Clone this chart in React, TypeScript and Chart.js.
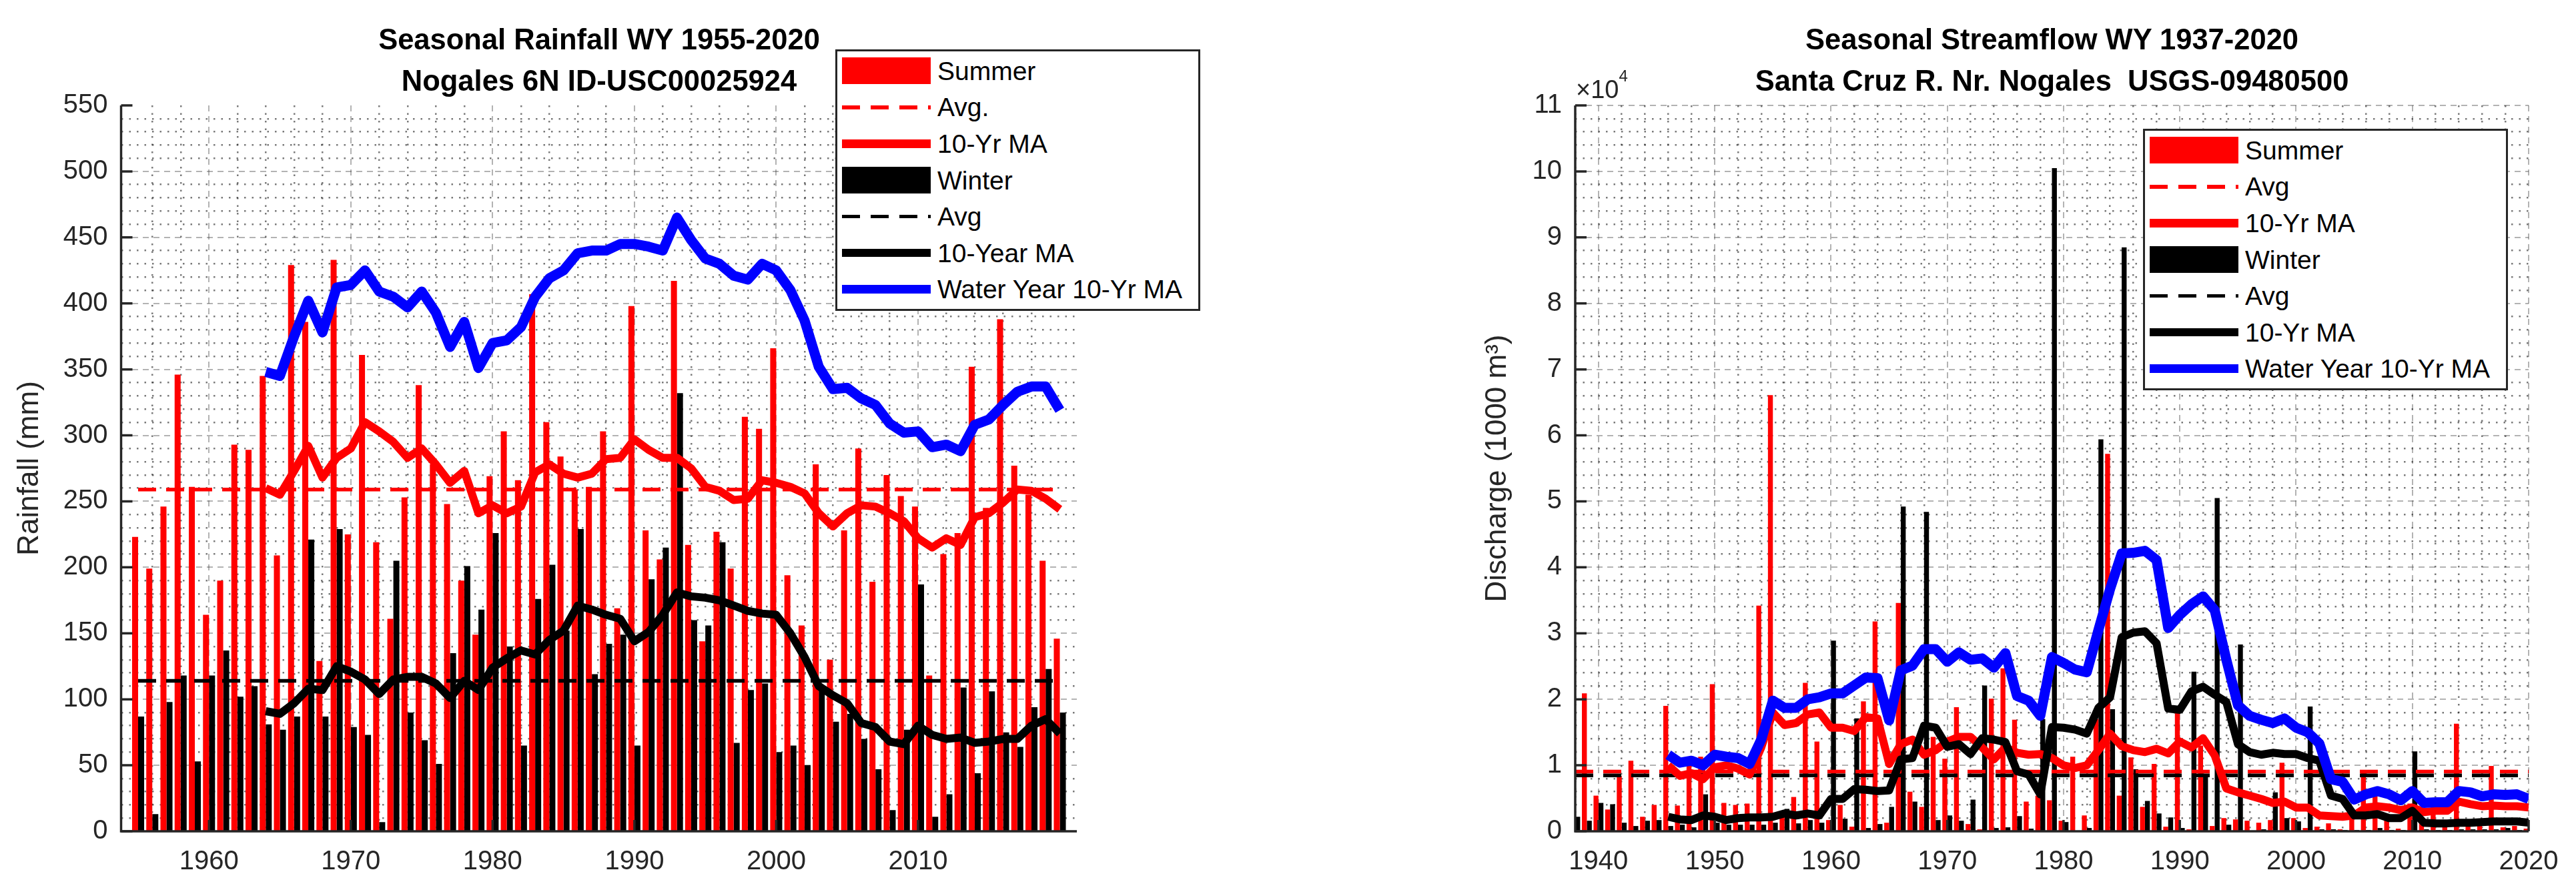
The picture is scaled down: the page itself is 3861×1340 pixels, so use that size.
import React, { useEffect, useRef } from 'react';
import Chart from 'chart.js/auto';

const FONT = "'Liberation Sans', Arial, Helvetica, sans-serif";
const AXIS = '#262626';
const RED = '#ff0000';
const BLACK = '#000000';
const BLUE = '#0000ff';
const MAJOR_GRID = 'rgba(38,38,38,0.35)';
const MINOR_GRID = 'rgba(38,38,38,0.62)';
const H = 1340;
const TICK = 17;

// Seasonal rainfall, Nogales 6N (mm), WY 1955-2020
const RAIN_START = 1955;
const rainSummer = [
  223, 199, 246, 346, 261, 164, 190, 293, 289, 345,
  209, 429, 386, 129, 433, 225, 361, 219, 161, 253,
  338, 278, 248, 190, 149, 269, 303, 266, 407, 310,
  284, 259, 261, 303, 169, 398, 228, 206, 417, 217,
  144, 227, 199, 314, 305, 366, 194, 156, 278, 130,
  228, 290, 189, 270, 254, 246, 118, 210, 226, 352,
  245, 388, 277, 255, 205, 146,
];
const rainWinter = [
  87, 13, 98, 118, 53, 118, 137, 102, 110, 81,
  77, 87, 221, 87, 229, 79, 73, 7, 205, 90,
  69, 51, 135, 201, 168, 226, 140, 65, 176, 202,
  152, 229, 119, 142, 149, 65, 191, 215, 332, 160,
  156, 219, 67, 107, 112, 60, 65, 50, 110, 83,
  89, 70, 47, 16, 77, 187, 11, 28, 109, 44,
  106, 75, 64, 94, 123, 90,
];
const RAIN_MA_START = 1964;
const rainSummerMA = [
  260, 255, 273, 292, 268, 283, 290, 310, 303, 295,
  283, 290, 278, 264, 273, 241, 247, 241, 246, 272,
  278, 271, 268, 271, 282, 283, 297, 289, 283, 283,
  275, 261, 258, 251, 252, 266, 264, 261, 256, 241,
  231, 241, 247, 246, 241, 235, 222, 215, 222, 217,
  238, 241, 249, 259, 258, 252, 244,
];
const rainWinterMA = [
  91, 89, 97, 108, 107, 125, 121, 115, 104, 115,
  117, 117, 112, 101, 114, 107, 124, 131, 137, 134,
  145, 152, 171, 168, 164, 161, 144, 151, 164, 181,
  178, 177, 175, 171, 167, 165, 164, 150, 132, 110,
  103, 97, 82, 79, 68, 66, 80, 73, 70, 71,
  67, 68, 70, 70, 80, 85, 74,
];
const rainYearMA = [
  348, 345, 375, 402, 378, 412, 414, 425, 409, 405,
  397, 409, 393, 367, 386, 351, 370, 372, 382, 405,
  419, 425, 438, 440, 440, 445, 445, 443, 440, 465,
  448, 434, 430, 421, 418, 430, 425, 410, 387, 352,
  335, 336, 328, 323, 309, 302, 303, 291, 293, 288,
  308, 312, 323, 333, 337, 337, 319,
];
const RAIN_SUMMER_AVG = 259;
const RAIN_WINTER_AVG = 114;

// Seasonal streamflow, Santa Cruz R. nr. Nogales (1000 m3)
const FLOW_START = 1938;
const flowSummer = [
  7200, 20900, 5400, 3300, 8400, 10700, 2200, 4000, 19000, 3900,
  10000, 11300, 22300, 4300, 4000, 4200, 34200, 66100, 3000, 5200,
  22500, 13600, 1700, 4000, 700, 19700, 31800, 1300, 34600, 6000,
  3700, 14300, 11000, 18800, 1100, 300, 20100, 24700, 16900, 4500,
  5400, 4700, 1600, 11300, 2400, 17000, 57200, 5400, 11200, 3700,
  10200, 700, 18700, 300, 13000, 800, 2000, 1800, 1600, 1300,
  1700, 10400, 2000, 500, 700, 1200, 300, 2500, 8800, 5400,
  1700, 400, 4200, 2200, 3600, 1700, 16300, 1300, 1000, 9900,
  600, 800, 400,
];
const flowWinter = [
  2200, 1600, 4300, 4100, 1300, 800, 1600, 1700, 800, 1000,
  600, 5600, 1300, 1000, 1000, 1000, 1000, 1300, 3400, 1200,
  1700, 1300, 28900, 1900, 17100, 500, 1100, 3700, 49200, 4500,
  48400, 1700, 2400, 1600, 4800, 22100, 500, 600, 2300, 400,
  17000, 100500, 1400, 100, 500, 59400, 18500, 88500, 9400, 4600,
  2700, 2100, 500, 24200, 8200, 50500, 1000, 28300, 100, 300,
  5900, 2000, 1500, 18900, 300, 300, 200, 200, 200, 500,
  200, 200, 12100, 300, 200, 200, 300, 300, 300, 300,
  500, 200, 200,
];
const FLOW_MA_START = 1946;
const flowSummerMA = [
  10000, 8400, 8800, 7900, 9700, 10000, 9500, 8600, 12700, 18000,
  16100, 16400, 17700, 18000, 15700, 15700, 15200, 17300, 17100, 10200,
  13200, 13900, 11600, 12300, 13600, 14300, 14300, 12700, 10900, 12700,
  11900, 11600, 11700, 11100, 10000, 9600, 10000, 12300, 14800, 12900,
  12300, 12000, 12500, 11800, 13600, 12700, 14100, 11500, 6500, 5900,
  5400, 4900, 4300, 4500, 3600, 3600, 2400, 2300, 2200, 2400,
  3600, 3800, 3600, 3200, 3600, 2900, 3100, 3100, 4500, 4100,
  3800, 3900, 3800, 3800, 3600,
];
const flowWinterMA = [
  2200, 1800, 1700, 2400, 2200, 1700, 2000, 2100, 2100, 2200,
  2700, 2400, 2700, 2400, 4900, 4900, 6400, 6300, 6100, 6200,
  10900, 11100, 16000, 15700, 12800, 13200, 11700, 14100, 13900, 13500,
  9100, 8600, 5600, 15800, 15700, 15400, 14800, 18700, 20300, 29400,
  30100, 30300, 28500, 18600, 18400, 21200, 21900, 20700, 19600, 13200,
  12000, 11600, 11900, 11700, 11700, 11100, 10700, 5400, 4900, 2400,
  2400, 2600, 2000, 2000, 3100, 1300, 1200, 1200, 1300, 1300,
  1400, 1500, 1500, 1500, 1300,
];
const flowYearMA = [
  11600, 10400, 10700, 10000, 11600, 11300, 11100, 10200, 13900, 19800,
  18700, 18700, 20000, 20300, 20900, 20900, 22100, 23300, 23200, 16800,
  24400, 25100, 27600, 27600, 25700, 27100, 26000, 26200, 24800, 27000,
  20500, 19800, 17500, 26400, 25500, 24500, 24100, 30500, 36700, 42100,
  42200, 42500, 41100, 30800, 32800, 34400, 35600, 33500, 26000, 19100,
  17500, 16900, 16400, 17100, 15700, 15000, 13300, 7900, 7500, 4800,
  5600, 6100, 5600, 4700, 6100, 4300, 4400, 4400, 6100, 5900,
  5300, 5600, 5500, 5600, 4900,
];
const FLOW_SUMMER_AVG = 9050;
const FLOW_WINTER_AVG = 8460;

const series = (start: number, values: number[]) => values.map((y, i) => ({ x: start + i, y }));
const flat = (from: number, to: number, y: number) => [{ x: from, y }, { x: to, y }];

// MATLAB style: inward major ticks and axis lines drawn over the data
const matlabAxes = {
  id: 'matlabAxes',
  afterDatasetsDraw(chart: any, _args: any, opts: any) {
    const { ctx, chartArea: a, scales } = chart;
    const x = scales.x;
    const y = scales.y;
    ctx.save();
    ctx.strokeStyle = AXIS;
    ctx.lineWidth = 3.5;
    ctx.lineJoin = 'miter';
    ctx.beginPath();
    x.ticks.forEach((t: any) => {
      if (t.value % opts.xMajor !== 0) return;
      const px = x.getPixelForValue(t.value);
      ctx.moveTo(px, a.bottom);
      ctx.lineTo(px, a.bottom - TICK);
    });
    y.ticks.forEach((t: any) => {
      if (t.value % opts.yMajor !== 0) return;
      const py = y.getPixelForValue(t.value);
      ctx.moveTo(a.left, py);
      ctx.lineTo(a.left + TICK, py);
    });
    ctx.stroke();
    ctx.beginPath();
    ctx.moveTo(a.left, a.top);
    ctx.lineTo(a.left, a.bottom);
    ctx.lineTo(a.right, a.bottom);
    ctx.stroke();
    ctx.restore();
  },
};

function gridFor(isMajor: (v: number) => boolean, hidden: (v: number) => boolean) {
  return {
    grid: {
      drawTicks: false,
      offset: false,
      color: (c: any) => {
        if (!c.tick || hidden(c.tick.value)) return 'rgba(0,0,0,0)';
        return isMajor(c.tick.value) ? MAJOR_GRID : MINOR_GRID;
      },
      lineWidth: (c: any) => (c.tick && isMajor(c.tick.value) ? 2 : 2.5),
    },
    border: {
      display: false,
      dash: (c: any) => (c.tick ? (isMajor(c.tick.value) ? [9, 7] : [2.5, 9]) : []),
    },
  };
}

function buildConfig(p: any) {
  const last = p.start + p.summer.length - 1;
  const lineBase = { type: 'line', pointRadius: 0, tension: 0, fill: false, borderJoinStyle: 'round', borderCapStyle: 'butt' };
  const barBase = { type: 'bar', categoryPercentage: 0.85, barPercentage: 1, borderWidth: 0, clip: 0 };
  return {
    type: 'bar',
    data: {
      datasets: [
        { ...lineBase, label: 'Water Year 10-Yr MA', data: series(p.maStart, p.yearMA), borderColor: BLUE, borderWidth: 15, order: 1 },
        { ...lineBase, label: 'Winter 10-Yr MA', data: series(p.maStart, p.winterMA), borderColor: BLACK, borderWidth: 12, order: 2 },
        { ...lineBase, label: 'Summer 10-Yr MA', data: series(p.maStart, p.summerMA), borderColor: RED, borderWidth: 12, order: 3 },
        { ...lineBase, label: 'Winter Avg', data: flat(p.start, last, p.winterAvg), borderColor: BLACK, borderWidth: 5.5, borderDash: [27, 15], order: 4 },
        { ...lineBase, label: 'Summer Avg', data: flat(p.start, last, p.summerAvg), borderColor: RED, borderWidth: 5.5, borderDash: [27, 15], order: 5 },
        { ...barBase, label: 'Summer', data: series(p.start, p.summer), backgroundColor: RED, order: 6 },
        { ...barBase, label: 'Winter', data: series(p.start, p.winter), backgroundColor: BLACK, order: 7 },
      ],
    },
    options: {
      responsive: true,
      maintainAspectRatio: false,
      animation: false,
      events: [],
      layout: { padding: { top: 158, right: p.padRight, bottom: 0, left: 0 } },
      plugins: {
        legend: { display: false },
        tooltip: { enabled: false },
        matlabAxes: { xMajor: 10, yMajor: p.yMajor },
      },
      scales: {
        x: {
          type: 'linear',
          min: p.xMin,
          max: p.xMax,
          offset: false,
          bounds: 'ticks',
          ticks: {
            stepSize: 2,
            autoSkip: false,
            maxRotation: 0,
            includeBounds: true,
            padding: 22,
            color: AXIS,
            font: { size: 40, family: FONT },
            callback: (v: any) => (Number(v) % 10 === 0 ? String(v) : ''),
          },
          afterBuildTicks: (s: any) => {
            s.ticks = s.ticks.filter((t: any) => Number.isInteger(t.value));
          },
          afterFit: (s: any) => {
            s.height = H - 1246;
          },
          ...gridFor((v) => v % 10 === 0, () => false),
        },
        y: {
          type: 'linear',
          min: 0,
          max: p.yMax,
          ticks: {
            stepSize: p.yMinor,
            autoSkip: false,
            padding: 20,
            color: AXIS,
            font: { size: 40, family: FONT },
            callback: (v: any) => (Number(v) % p.yMajor === 0 ? p.yFormat(Number(v)) : ''),
          },
          afterFit: (s: any) => {
            s.width = p.yAxisWidth;
          },
          title: {
            display: true,
            text: p.yLabel,
            color: AXIS,
            font: { size: 44, family: FONT },
            padding: { top: p.yTitlePad, bottom: 0 },
          },
          ...gridFor((v) => v % p.yMajor === 0, (v) => v === 0 || (p.hideTop && v === p.yMax)),
        },
      },
    },
    plugins: [matlabAxes],
  };
}

const rainSpec = {
  start: RAIN_START, summer: rainSummer, winter: rainWinter,
  maStart: RAIN_MA_START, summerMA: rainSummerMA, winterMA: rainWinterMA, yearMA: rainYearMA,
  summerAvg: RAIN_SUMMER_AVG, winterAvg: RAIN_WINTER_AVG,
  xMin: 1953.8, xMax: 2021.2, yMax: 550, yMinor: 10, yMajor: 50,
  yFormat: (v: number) => String(v), yLabel: 'Rainfall (mm)',
  yAxisWidth: 181.5, yTitlePad: 18.6, padRight: 86, hideTop: true,
};

const flowSpec = {
  start: FLOW_START, summer: flowSummer, winter: flowWinter,
  maStart: FLOW_MA_START, summerMA: flowSummerMA, winterMA: flowWinterMA, yearMA: flowYearMA,
  summerAvg: FLOW_SUMMER_AVG, winterAvg: FLOW_WINTER_AVG,
  xMin: 1938, xMax: 2020, yMax: 110000, yMinor: 2000, yMajor: 10000,
  yFormat: (v: number) => String(v / 10000), yLabel: 'Discharge (1000 m³)',
  yAxisWidth: 181, yTitlePad: 38.6, padRight: 71, hideTop: false,
};

const rainLegend = [
  { kind: 'patch', color: RED, text: 'Summer' },
  { kind: 'dash', color: RED, text: 'Avg.' },
  { kind: 'line', color: RED, text: '10-Yr MA' },
  { kind: 'patch', color: BLACK, text: 'Winter' },
  { kind: 'dash', color: BLACK, text: 'Avg' },
  { kind: 'line', color: BLACK, text: '10-Year MA' },
  { kind: 'line', color: BLUE, text: 'Water Year 10-Yr MA' },
];

const flowLegend = [
  { kind: 'patch', color: RED, text: 'Summer' },
  { kind: 'dash', color: RED, text: 'Avg' },
  { kind: 'line', color: RED, text: '10-Yr MA' },
  { kind: 'patch', color: BLACK, text: 'Winter' },
  { kind: 'dash', color: BLACK, text: 'Avg' },
  { kind: 'line', color: BLACK, text: '10-Yr MA' },
  { kind: 'line', color: BLUE, text: 'Water Year 10-Yr MA' },
];

function ChartPanel({ left, width, spec }: any) {
  const canvasRef = useRef<HTMLCanvasElement>(null);

  useEffect(() => {
    if (!canvasRef.current) return;
    const chart = new Chart(canvasRef.current, buildConfig(spec) as any);
    return () => {
      chart.destroy();
    };
  }, [spec]);

  return (
    <div style={{ position: 'absolute', left, top: 0, width, height: H }}>
      <canvas ref={canvasRef}></canvas>
    </div>
  );
}

function Swatch({ kind, color }: any) {
  const base: any = { width: 133, flex: '0 0 133px' };
  if (kind === 'patch') return <div style={{ ...base, height: 40, background: color }} />;
  if (kind === 'dash')
    return (
      <div
        style={{
          ...base,
          height: 5.5,
          background: `repeating-linear-gradient(to right, ${color} 0px, ${color} 27px, transparent 27px, transparent 43px)`,
        }}
      />
    );
  return <div style={{ ...base, height: 12.5, background: color }} />;
}

function Legend({ left, top, items }: any) {
  return (
    <div
      style={{
        position: 'absolute', left, top, width: 547, height: 392,
        border: `3px solid ${AXIS}`, boxSizing: 'border-box', background: '#fff',
      }}
    >
      {items.map((it: any, i: number) => (
        <div
          key={i}
          style={{
            position: 'absolute', left: 7, top: 29.4 + i * 54.55 - 20, height: 40,
            display: 'flex', alignItems: 'center',
          }}
        >
          <Swatch kind={it.kind} color={it.color} />
          <span style={{ marginLeft: 10, fontFamily: FONT, fontSize: 39, lineHeight: 1, color: '#000', whiteSpace: 'nowrap' }}>
            {it.text}
          </span>
        </div>
      ))}
    </div>
  );
}

function Title({ center, lines }: any) {
  return (
    <div
      style={{
        position: 'absolute', left: center - 900, top: 28, width: 1800, textAlign: 'center',
        fontFamily: FONT, fontWeight: 'bold', fontSize: 43.5, lineHeight: '62px', color: '#000', whiteSpace: 'pre',
      }}
    >
      {lines.map((l: string, i: number) => (
        <div key={i}>{l}</div>
      ))}
    </div>
  );
}

export default function App() {
  return (
    <div style={{ position: 'absolute', left: 0, top: 0, width: 3861, height: H, background: '#fff', overflow: 'hidden' }}>
      <ChartPanel left={0} width={1700} spec={rainSpec} />
      <ChartPanel left={2180} width={1681} spec={flowSpec} />
      <Title center={898} lines={['Seasonal Rainfall WY 1955-2020', 'Nogales 6N ID-USC00025924']} />
      <Title center={3075.5} lines={['Seasonal Streamflow WY 1937-2020', 'Santa Cruz R. Nr. Nogales  USGS-09480500']} />
      <div style={{ position: 'absolute', left: 2362, top: 115, fontFamily: FONT, fontSize: 38, lineHeight: '38px', color: AXIS, whiteSpace: 'nowrap' }}>
        ×10<span style={{ fontSize: 24, position: 'relative', top: -25 }}>4</span>
      </div>
      <Legend left={1252} top={74} items={rainLegend} />
      <Legend left={3212} top={193} items={flowLegend} />
    </div>
  );
}
